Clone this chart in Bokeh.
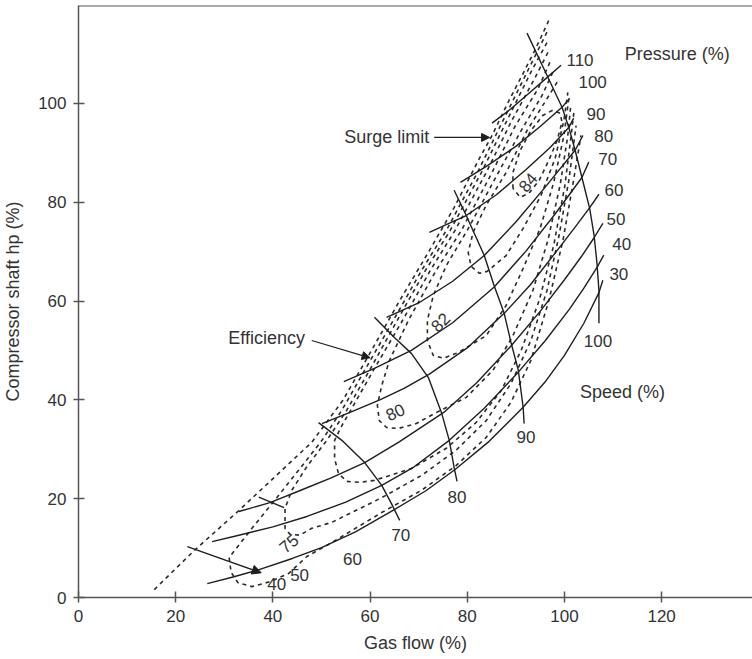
from bokeh.plotting import figure
from bokeh.models import Range1d, Span, Arrow, NormalHead, FixedTicker
from bokeh.core.properties import value
from bokeh.embed import file_html
from bokeh.resources import INLINE
import math

FONT = value("Liberation Sans")
TXT = "#333333"
SOLID = "#1e1e1e"
DASH = "#2a2a2a"

# ---------------- data (gas flow %, shaft hp %) ----------------
x_ticks = [0, 20, 40, 60, 80, 100, 120]
y_ticks = [0, 20, 40, 60, 80, 100]

# constant-pressure lines (solid)
pressure_levels = ["110", "100", "90", "80", "70", "60", "50", "40", "30"]
p110_x = [85.1, 89.0, 93.0, 96.4, 99.3]
p110_y = [96.0, 98.9, 102.3, 105.2, 107.7]
p100_x = [78.6, 84.0, 90.0, 95.0, 99.5, 101.1]
p100_y = [84.0, 87.3, 91.3, 95.3, 99.2, 101.0]
p90_x = [72.2, 76.0, 79.8, 86.0, 92.0, 97.0, 100.9, 101.9]
p90_y = [73.9, 75.6, 77.3, 81.5, 86.5, 91.0, 95.1, 97.0]
p80_x = [63.4, 70.0, 77.0, 83.5, 90.0, 96.0, 102.2, 103.8]
p80_y = [56.7, 59.6, 64.0, 69.2, 76.0, 83.0, 90.5, 93.5]
p70_x = [54.6, 61.0, 68.5, 77.0, 85.5, 92.0, 98.0, 103.6, 105.0]
p70_y = [43.7, 46.4, 50.0, 55.6, 62.8, 70.0, 77.5, 85.0, 88.1]
p60_x = [50.1, 56.0, 62.0, 67.0, 72.2, 80.0, 87.6, 93.0, 98.0, 102.0, 105.2, 107.1]
p60_y = [35.2, 37.5, 40.0, 42.3, 45.2, 50.5, 57.5, 63.3, 69.6, 74.7, 78.9, 81.6]
p50_x = [33.0, 39.4, 46.0, 52.0, 58.9, 66.0, 75.1, 82.0, 89.0, 95.0, 100.0, 103.5, 106.1, 107.9]
p50_y = [17.4, 19.2, 21.8, 24.2, 27.3, 31.5, 37.4, 43.5, 50.9, 57.9, 64.3, 69.0, 72.8, 75.7]
p40_x = [27.5, 33.0, 40.0, 47.0, 55.0, 62.4, 69.0, 76.3, 83.5, 90.5, 96.0, 101.0, 104.0, 106.7, 108.1]
p40_y = [11.3, 12.6, 14.3, 16.4, 19.3, 22.7, 26.4, 31.8, 38.3, 45.6, 51.9, 58.3, 62.6, 66.8, 69.3]
p30_x = [26.5, 32.0, 37.0, 44.0, 50.0, 57.0, 65.0, 71.5, 77.5, 84.5, 91.5, 96.0, 100.0, 104.0, 107.1, 107.9]
p30_y = [2.8, 4.2, 5.6, 7.9, 10.1, 13.3, 17.8, 21.6, 25.9, 31.6, 38.5, 43.6, 49.0, 55.5, 61.7, 64.2]
pressure_label_x = [103.2, 105.8, 106.5, 108.1, 108.9, 110.2, 110.6, 111.8, 111.2]
pressure_label_y = [108.7, 104.3, 97.8, 93.3, 88.7, 82.4, 76.5, 71.5, 65.4]

# constant-speed lines (solid)
s100_x = [92.3, 96.4, 99.5, 100.9, 102.2, 103.6, 105.2, 106.1, 106.7, 107.1, 107.1]
s100_y = [114.2, 105.7, 99.2, 95.1, 90.5, 85.0, 78.7, 73.3, 67.6, 62.1, 55.5]
s90_x = [77.3, 79.8, 83.5, 85.5, 87.6, 89.0, 90.5, 91.5, 91.7]
s90_y = [82.4, 77.3, 69.2, 63.2, 57.5, 51.6, 46.0, 38.5, 35.2]
s80_x = [60.9, 65.0, 68.5, 72.0, 74.7, 76.3, 77.3, 77.9]
s80_y = [56.7, 52.6, 49.4, 44.5, 37.4, 31.8, 26.3, 23.5]
s70_x = [49.4, 54.2, 58.9, 62.4, 64.4, 66.1]
s70_y = [35.4, 31.8, 27.3, 22.7, 19.0, 15.6]
s60_x = [37.1, 42.3]
s60_y = [20.3, 18.2]
s40_x = [22.4, 37.6]
s40_y = [10.3, 5.0]
speed_labels = ["100", "90", "80", "70", "60", "50", "40"]
speed_label_x = [106.9, 92.1, 77.9, 66.3, 56.4, 45.5, 40.8]
speed_label_y = [52.0, 32.4, 20.4, 12.6, 7.7, 4.5, 2.8]

# surge limit and efficiency contours (dashed)
surge_x = [15.6, 23.8, 33.0, 41.8, 48.0, 54.4, 60.3, 66.1, 72.2, 77.3, 82.3, 84.9, 88.6, 91.1, 93.9, 96.8]
surge_y = [1.6, 9.5, 17.6, 25.7, 31.4, 39.9, 50.0, 60.1, 70.2, 78.9, 88.5, 93.1, 100.6, 105.3, 110.7, 116.8]
e70_x = [96.4, 92.5, 87.4, 82.1, 75.7, 70.6, 64.8, 58.9, 54.2, 50.1, 45.9, 40.8, 35.7, 31.0, 31.4, 32.8,
         35.7, 39.4, 43.3, 47.0, 52.1, 62.4, 70.6, 77.7, 83.9, 89.0, 93.1, 96.8, 99.7, 101.7, 103.4]
e70_y = [114.4, 106.7, 96.6, 86.0, 74.3, 66.2, 56.1, 46.0, 37.9, 31.8, 26.5, 20.2, 14.0, 8.1, 5.1, 3.0,
         2.2, 3.2, 4.9, 8.3, 11.1, 17.2, 21.7, 26.7, 32.4, 39.5, 48.0, 60.1, 72.3, 83.4, 93.5]
e75_x = [96.4, 93.1, 88.2, 82.9, 76.5, 71.4, 65.6, 59.9, 55.2, 51.1, 47.0, 43.9, 42.5, 42.5, 43.5, 45.5,
         48.0, 52.1, 62.4, 70.6, 77.7, 83.9, 89.0, 93.1, 96.4, 98.9, 100.9, 102.4]
e75_y = [112.3, 106.3, 96.6, 86.0, 74.3, 66.2, 56.1, 46.0, 37.9, 31.8, 26.5, 21.7, 18.0, 14.0, 12.8, 12.6,
         14.0, 15.2, 20.2, 24.7, 29.8, 35.8, 43.3, 52.0, 62.1, 73.3, 84.4, 95.5]
e79_x = [96.6, 93.7, 89.0, 83.9, 77.5, 72.4, 66.7, 60.7, 56.6, 54.2, 52.7, 52.7, 53.5, 55.2, 57.8, 60.9,
         68.5, 75.7, 81.8, 87.0, 91.1, 94.8, 97.8, 100.1, 101.5, 102.0]
e79_y = [110.3, 104.7, 96.2, 86.0, 74.3, 66.2, 56.1, 46.0, 38.9, 34.8, 31.8, 28.1, 25.1, 23.5, 23.3, 23.7,
         26.1, 30.2, 35.4, 41.9, 50.0, 60.1, 71.3, 83.4, 94.5, 98.6]
e80_x = [97.0, 94.6, 89.8, 85.1, 78.8, 73.6, 67.9, 64.0, 62.4, 61.5, 61.9, 63.4, 65.8, 69.5, 73.2, 79.8,
         85.3, 89.4, 93.5, 96.6, 99.1, 100.7, 101.3]
e80_y = [108.3, 103.0, 95.3, 86.0, 74.3, 66.2, 56.1, 48.0, 42.9, 38.9, 35.8, 34.4, 34.2, 35.2, 37.2, 40.5,
         46.0, 53.0, 62.1, 72.3, 83.4, 93.5, 99.6]
e82_x = [97.6, 95.4, 91.1, 86.4, 80.0, 75.7, 73.0, 71.8, 71.8, 73.0, 75.1, 78.2, 83.9, 88.0, 91.5, 95.0,
         97.8, 99.9, 100.9]
e82_y = [106.3, 101.6, 94.5, 86.0, 74.3, 67.2, 61.1, 56.1, 52.0, 49.0, 48.4, 49.6, 53.0, 59.1, 66.6, 74.7,
         84.0, 93.5, 101.0]
e83_x = [98.5, 96.2, 92.3, 88.0, 83.9, 81.2, 80.2, 80.8, 82.5, 84.1, 88.0, 91.5, 95.2, 98.1, 99.9, 100.7]
e83_y = [104.3, 100.6, 94.5, 86.0, 79.4, 73.9, 69.8, 67.0, 65.6, 66.0, 69.2, 74.7, 81.4, 88.9, 96.6, 102.2]
e84_x = [89.4, 89.4, 90.9, 93.1, 95.6, 97.6, 99.1, 99.5, 98.5, 96.8, 94.8, 92.7, 90.9, 89.4]
e84_y = [82.8, 86.0, 90.5, 94.5, 97.6, 98.6, 98.0, 96.2, 92.5, 88.5, 84.4, 81.8, 81.0, 82.8]

eff_labels = ["84", "82", "80", "75"]
eff_label_x = [92.5, 74.5, 65.2, 43.3]
eff_label_y = [84.0, 55.7, 37.5, 10.9]
eff_label_angle = [50, 45, 25, 40]

# ---------------- figure ----------------
p = figure(width=752, height=659, x_range=Range1d(0, 138.7), y_range=Range1d(0, 119.8),
           output_backend="svg", toolbar_location=None,
           min_border_left=76, min_border_right=0, min_border_top=5, min_border_bottom=62)
p.outline_line_color = None
p.grid.visible = False
p.background_fill_color = "white"
p.border_fill_color = "white"

for ax in (p.xaxis[0], p.yaxis[0]):
    ax.axis_line_color = "#555555"
    ax.axis_line_width = 1.5
    ax.major_tick_line_color = "#555555"
    ax.major_tick_line_width = 1.5
    ax.major_tick_in = 6
    ax.major_tick_out = 5
    ax.minor_tick_line_color = None
    ax.major_label_text_font = "Liberation Sans"
    ax.major_label_text_font_size = "17px"
    ax.major_label_text_color = TXT
    ax.axis_label_text_font = "Liberation Sans"
    ax.axis_label_text_font_size = "18px"
    ax.axis_label_text_font_style = "normal"
    ax.axis_label_text_color = TXT
    ax.major_label_standoff = 7

p.xaxis.ticker = FixedTicker(ticks=x_ticks)
p.yaxis.ticker = FixedTicker(ticks=y_ticks)
p.xaxis.axis_label = "Gas flow (%)"
p.yaxis.axis_label = "Compressor shaft hp (%)"
p.xaxis.axis_label_standoff = 8
p.yaxis.axis_label_standoff = 12

p.add_layout(Span(location=119.8, dimension="width", line_color="#555555", line_width=2))

# dashed contours
for xs, ys in [(surge_x, surge_y), (e70_x, e70_y), (e75_x, e75_y), (e79_x, e79_y),
               (e80_x, e80_y), (e82_x, e82_y), (e83_x, e83_y), (e84_x, e84_y)]:
    p.line(xs, ys, line_color=DASH, line_width=1.6, line_dash="4 4")

# solid pressure lines
for xs, ys in [(p110_x, p110_y), (p100_x, p100_y), (p90_x, p90_y), (p80_x, p80_y),
               (p70_x, p70_y), (p60_x, p60_y), (p50_x, p50_y), (p40_x, p40_y), (p30_x, p30_y)]:
    p.line(xs, ys, line_color=SOLID, line_width=1.4, line_join="round")

# solid speed lines
for xs, ys in [(s100_x, s100_y), (s90_x, s90_y), (s80_x, s80_y), (s70_x, s70_y), (s60_x, s60_y)]:
    p.line(xs, ys, line_color=SOLID, line_width=1.4, line_join="round")

p.add_layout(Arrow(end=NormalHead(size=9, fill_color=SOLID, line_color=SOLID),
                   x_start=s40_x[0], y_start=s40_y[0], x_end=s40_x[1], y_end=s40_y[1],
                   line_color=SOLID, line_width=1.3))

# labels
p.text(x=pressure_label_x, y=pressure_label_y, text=pressure_levels, text_font=FONT,
       text_font_size="17px", text_color=TXT, text_align="center", text_baseline="middle")
p.text(x=speed_label_x, y=speed_label_y, text=speed_labels, text_font=FONT,
       text_font_size="17px", text_color=TXT, text_align="center", text_baseline="middle")
p.text(x=eff_label_x, y=eff_label_y, text=eff_labels, text_font=FONT,
       text_font_size="17px", text_color=TXT, text_align="center", text_baseline="middle",
       angle=[math.radians(a) for a in eff_label_angle])

p.text(x=[112.4], y=[109.9], text=["Pressure (%)"], text_font=FONT, text_font_size="18px",
       text_color=TXT, text_align="left", text_baseline="middle")
p.text(x=[103.2], y=[41.5], text=["Speed (%)"], text_font=FONT, text_font_size="18px",
       text_color=TXT, text_align="left", text_baseline="middle")
p.text(x=[72.2], y=[93.1], text=["Surge limit"], text_font=FONT, text_font_size="18px",
       text_color=TXT, text_align="right", text_baseline="middle")
p.text(x=[46.6], y=[52.6], text=["Efficiency"], text_font=FONT, text_font_size="18px",
       text_color=TXT, text_align="right", text_baseline="middle")

p.add_layout(Arrow(end=NormalHead(size=8, fill_color=SOLID, line_color=SOLID),
                   x_start=73.2, y_start=93.1, x_end=84.6, y_end=93.1,
                   line_color=SOLID, line_width=1.2))
p.add_layout(Arrow(end=NormalHead(size=8, fill_color=SOLID, line_color=SOLID),
                   x_start=48.0, y_start=52.0, x_end=60.0, y_end=48.5,
                   line_color=SOLID, line_width=1.2))

open("out.html", "w").write(file_html(p, INLINE))
